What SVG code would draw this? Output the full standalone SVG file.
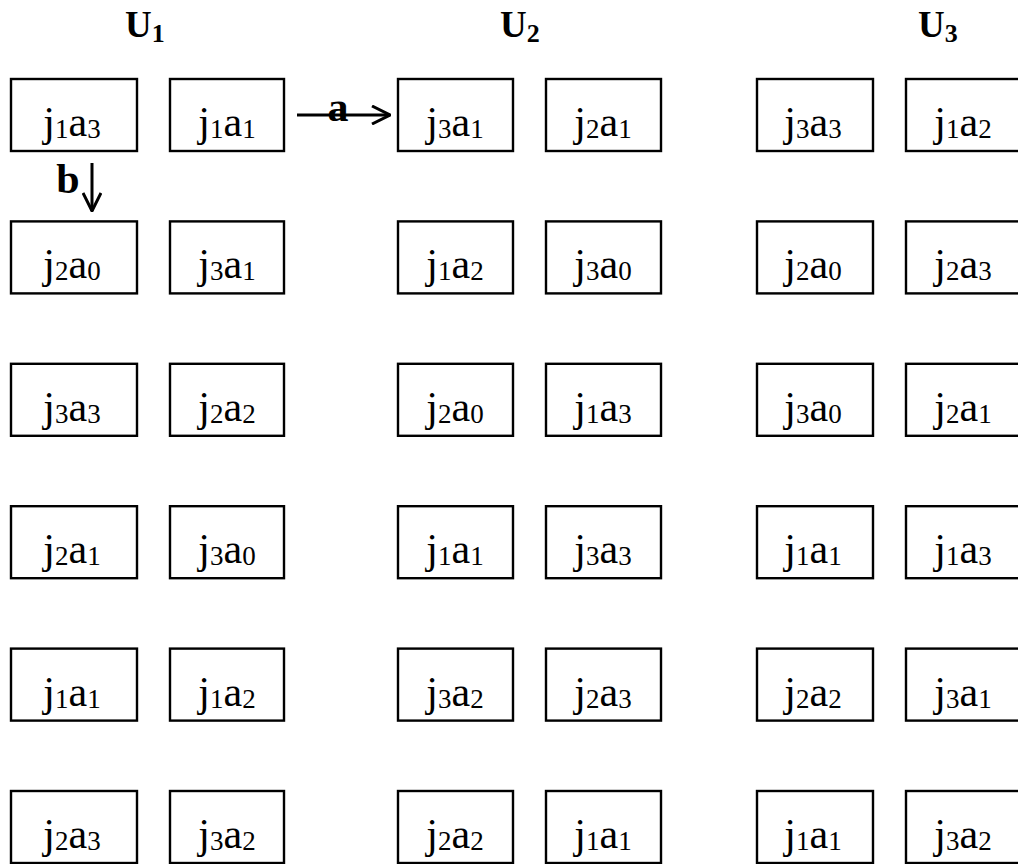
<svg xmlns="http://www.w3.org/2000/svg" width="1018" height="864" viewBox="0 0 1018 864">
  <style>
    .box { fill: #ffffff; stroke: #000000; stroke-width: 2.4; }
    .t { font-family: "Liberation Serif", "Times New Roman", serif; font-size: 42px; fill: #000000; text-anchor: middle; }
    .s { font-size: 27px; }
    .hd { font-family: "Liberation Serif", "Times New Roman", serif; font-size: 37px; font-weight: bold; fill: #000000; }
    .hs { font-size: 26px; }
    .lbl { font-family: "Liberation Serif", "Times New Roman", serif; font-size: 42px; font-weight: bold; fill: #000000; }
    .arr { stroke: #000000; stroke-width: 3; fill: none; }
  </style>
  <defs>
    <marker id="chev" viewBox="0 0 20 20" refX="19" refY="10" markerWidth="20" markerHeight="20" markerUnits="userSpaceOnUse" orient="auto">
      <path d="M1,1 L19,10 L1,19" fill="none" stroke="#000000" stroke-width="3"/>
    </marker>
  </defs>
  <rect width="1018" height="864" fill="#ffffff"/>

  <!-- column headings -->
  <g id="headings">
    <text class="hd" x="125" y="37">U<tspan class="hs" dy="5">1</tspan></text>
    <text class="hd" x="500" y="37">U<tspan class="hs" dy="5">2</tspan></text>
    <text class="hd" x="918" y="37">U<tspan class="hs" dy="5">3</tspan></text>
  </g>

  <!-- row 1 -->
  <g id="n-1-1"><rect class="box" x="11" y="79" width="126" height="72"/><text class="t" x="72" y="136">j<tspan class="s" dy="2">1</tspan><tspan dy="-2">a</tspan><tspan class="s" dy="2">3</tspan></text></g>
  <g id="n-1-2"><rect class="box" x="170" y="79" width="114" height="72"/><text class="t" x="227" y="136">j<tspan class="s" dy="2">1</tspan><tspan dy="-2">a</tspan><tspan class="s" dy="2">1</tspan></text></g>
  <g id="n-1-3"><rect class="box" x="398" y="79" width="115" height="72"/><text class="t" x="455" y="136">j<tspan class="s" dy="2">3</tspan><tspan dy="-2">a</tspan><tspan class="s" dy="2">1</tspan></text></g>
  <g id="n-1-4"><rect class="box" x="546" y="79" width="115" height="72"/><text class="t" x="603" y="136">j<tspan class="s" dy="2">2</tspan><tspan dy="-2">a</tspan><tspan class="s" dy="2">1</tspan></text></g>
  <g id="n-1-5"><rect class="box" x="757" y="79" width="116" height="72"/><text class="t" x="813" y="136">j<tspan class="s" dy="2">3</tspan><tspan dy="-2">a</tspan><tspan class="s" dy="2">3</tspan></text></g>
  <g id="n-1-6"><rect class="box" x="906" y="79" width="116" height="72"/><text class="t" x="963" y="136">j<tspan class="s" dy="2">1</tspan><tspan dy="-2">a</tspan><tspan class="s" dy="2">2</tspan></text></g>

  <!-- row 2 -->
  <g id="n-2-1"><rect class="box" x="11" y="221.4" width="126" height="72"/><text class="t" x="72" y="278.4">j<tspan class="s" dy="2">2</tspan><tspan dy="-2">a</tspan><tspan class="s" dy="2">0</tspan></text></g>
  <g id="n-2-2"><rect class="box" x="170" y="221.4" width="114" height="72"/><text class="t" x="227" y="278.4">j<tspan class="s" dy="2">3</tspan><tspan dy="-2">a</tspan><tspan class="s" dy="2">1</tspan></text></g>
  <g id="n-2-3"><rect class="box" x="398" y="221.4" width="115" height="72"/><text class="t" x="455" y="278.4">j<tspan class="s" dy="2">1</tspan><tspan dy="-2">a</tspan><tspan class="s" dy="2">2</tspan></text></g>
  <g id="n-2-4"><rect class="box" x="546" y="221.4" width="115" height="72"/><text class="t" x="603" y="278.4">j<tspan class="s" dy="2">3</tspan><tspan dy="-2">a</tspan><tspan class="s" dy="2">0</tspan></text></g>
  <g id="n-2-5"><rect class="box" x="757" y="221.4" width="116" height="72"/><text class="t" x="813" y="278.4">j<tspan class="s" dy="2">2</tspan><tspan dy="-2">a</tspan><tspan class="s" dy="2">0</tspan></text></g>
  <g id="n-2-6"><rect class="box" x="906" y="221.4" width="116" height="72"/><text class="t" x="963" y="278.4">j<tspan class="s" dy="2">2</tspan><tspan dy="-2">a</tspan><tspan class="s" dy="2">3</tspan></text></g>

  <!-- row 3 -->
  <g id="n-3-1"><rect class="box" x="11" y="363.8" width="126" height="72"/><text class="t" x="72" y="420.8">j<tspan class="s" dy="2">3</tspan><tspan dy="-2">a</tspan><tspan class="s" dy="2">3</tspan></text></g>
  <g id="n-3-2"><rect class="box" x="170" y="363.8" width="114" height="72"/><text class="t" x="227" y="420.8">j<tspan class="s" dy="2">2</tspan><tspan dy="-2">a</tspan><tspan class="s" dy="2">2</tspan></text></g>
  <g id="n-3-3"><rect class="box" x="398" y="363.8" width="115" height="72"/><text class="t" x="455" y="420.8">j<tspan class="s" dy="2">2</tspan><tspan dy="-2">a</tspan><tspan class="s" dy="2">0</tspan></text></g>
  <g id="n-3-4"><rect class="box" x="546" y="363.8" width="115" height="72"/><text class="t" x="603" y="420.8">j<tspan class="s" dy="2">1</tspan><tspan dy="-2">a</tspan><tspan class="s" dy="2">3</tspan></text></g>
  <g id="n-3-5"><rect class="box" x="757" y="363.8" width="116" height="72"/><text class="t" x="813" y="420.8">j<tspan class="s" dy="2">3</tspan><tspan dy="-2">a</tspan><tspan class="s" dy="2">0</tspan></text></g>
  <g id="n-3-6"><rect class="box" x="906" y="363.8" width="116" height="72"/><text class="t" x="963" y="420.8">j<tspan class="s" dy="2">2</tspan><tspan dy="-2">a</tspan><tspan class="s" dy="2">1</tspan></text></g>

  <!-- row 4 -->
  <g id="n-4-1"><rect class="box" x="11" y="506.2" width="126" height="72"/><text class="t" x="72" y="563.2">j<tspan class="s" dy="2">2</tspan><tspan dy="-2">a</tspan><tspan class="s" dy="2">1</tspan></text></g>
  <g id="n-4-2"><rect class="box" x="170" y="506.2" width="114" height="72"/><text class="t" x="227" y="563.2">j<tspan class="s" dy="2">3</tspan><tspan dy="-2">a</tspan><tspan class="s" dy="2">0</tspan></text></g>
  <g id="n-4-3"><rect class="box" x="398" y="506.2" width="115" height="72"/><text class="t" x="455" y="563.2">j<tspan class="s" dy="2">1</tspan><tspan dy="-2">a</tspan><tspan class="s" dy="2">1</tspan></text></g>
  <g id="n-4-4"><rect class="box" x="546" y="506.2" width="115" height="72"/><text class="t" x="603" y="563.2">j<tspan class="s" dy="2">3</tspan><tspan dy="-2">a</tspan><tspan class="s" dy="2">3</tspan></text></g>
  <g id="n-4-5"><rect class="box" x="757" y="506.2" width="116" height="72"/><text class="t" x="813" y="563.2">j<tspan class="s" dy="2">1</tspan><tspan dy="-2">a</tspan><tspan class="s" dy="2">1</tspan></text></g>
  <g id="n-4-6"><rect class="box" x="906" y="506.2" width="116" height="72"/><text class="t" x="963" y="563.2">j<tspan class="s" dy="2">1</tspan><tspan dy="-2">a</tspan><tspan class="s" dy="2">3</tspan></text></g>

  <!-- row 5 -->
  <g id="n-5-1"><rect class="box" x="11" y="648.6" width="126" height="72"/><text class="t" x="72" y="705.6">j<tspan class="s" dy="2">1</tspan><tspan dy="-2">a</tspan><tspan class="s" dy="2">1</tspan></text></g>
  <g id="n-5-2"><rect class="box" x="170" y="648.6" width="114" height="72"/><text class="t" x="227" y="705.6">j<tspan class="s" dy="2">1</tspan><tspan dy="-2">a</tspan><tspan class="s" dy="2">2</tspan></text></g>
  <g id="n-5-3"><rect class="box" x="398" y="648.6" width="115" height="72"/><text class="t" x="455" y="705.6">j<tspan class="s" dy="2">3</tspan><tspan dy="-2">a</tspan><tspan class="s" dy="2">2</tspan></text></g>
  <g id="n-5-4"><rect class="box" x="546" y="648.6" width="115" height="72"/><text class="t" x="603" y="705.6">j<tspan class="s" dy="2">2</tspan><tspan dy="-2">a</tspan><tspan class="s" dy="2">3</tspan></text></g>
  <g id="n-5-5"><rect class="box" x="757" y="648.6" width="116" height="72"/><text class="t" x="813" y="705.6">j<tspan class="s" dy="2">2</tspan><tspan dy="-2">a</tspan><tspan class="s" dy="2">2</tspan></text></g>
  <g id="n-5-6"><rect class="box" x="906" y="648.6" width="116" height="72"/><text class="t" x="963" y="705.6">j<tspan class="s" dy="2">3</tspan><tspan dy="-2">a</tspan><tspan class="s" dy="2">1</tspan></text></g>

  <!-- row 6 -->
  <g id="n-6-1"><rect class="box" x="11" y="791" width="126" height="72"/><text class="t" x="72" y="848">j<tspan class="s" dy="2">2</tspan><tspan dy="-2">a</tspan><tspan class="s" dy="2">3</tspan></text></g>
  <g id="n-6-2"><rect class="box" x="170" y="791" width="114" height="72"/><text class="t" x="227" y="848">j<tspan class="s" dy="2">3</tspan><tspan dy="-2">a</tspan><tspan class="s" dy="2">2</tspan></text></g>
  <g id="n-6-3"><rect class="box" x="398" y="791" width="115" height="72"/><text class="t" x="455" y="848">j<tspan class="s" dy="2">2</tspan><tspan dy="-2">a</tspan><tspan class="s" dy="2">2</tspan></text></g>
  <g id="n-6-4"><rect class="box" x="546" y="791" width="115" height="72"/><text class="t" x="603" y="848">j<tspan class="s" dy="2">1</tspan><tspan dy="-2">a</tspan><tspan class="s" dy="2">1</tspan></text></g>
  <g id="n-6-5"><rect class="box" x="757" y="791" width="116" height="72"/><text class="t" x="813" y="848">j<tspan class="s" dy="2">1</tspan><tspan dy="-2">a</tspan><tspan class="s" dy="2">1</tspan></text></g>
  <g id="n-6-6"><rect class="box" x="906" y="791" width="116" height="72"/><text class="t" x="963" y="848">j<tspan class="s" dy="2">3</tspan><tspan dy="-2">a</tspan><tspan class="s" dy="2">2</tspan></text></g>

  <!-- connectors: move a (right) and move b (down) -->
  <g id="connectors">
    <line class="arr" x1="297" y1="115" x2="390" y2="115" marker-end="url(#chev)"/>
    <text class="lbl" x="338" y="121" text-anchor="middle">a</text>
    <line class="arr" x1="92" y1="163" x2="92" y2="211" marker-end="url(#chev)"/>
    <text class="lbl" x="68" y="193" text-anchor="middle">b</text>
  </g>
</svg>
